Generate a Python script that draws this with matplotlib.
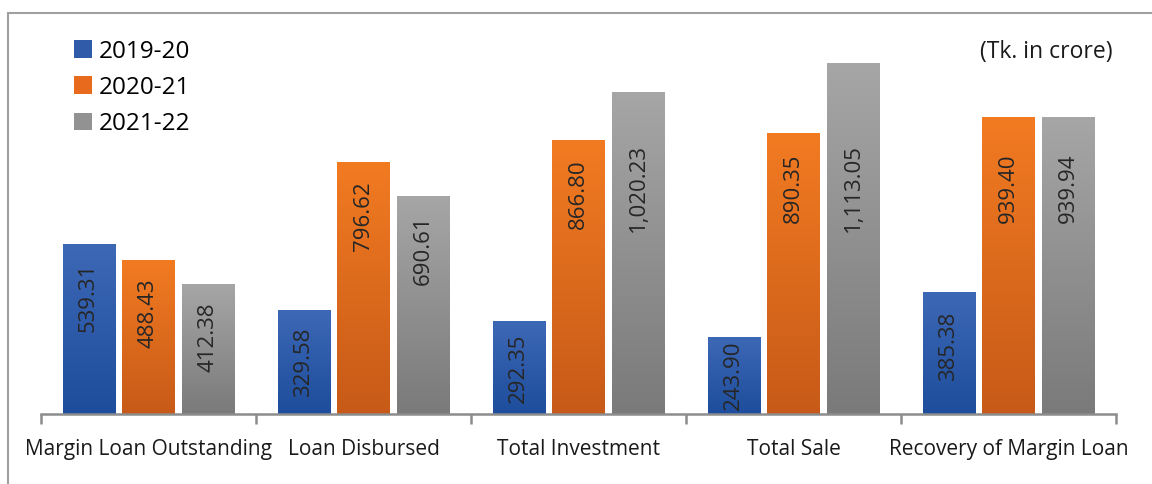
import numpy as np
import matplotlib.pyplot as plt
from matplotlib.patches import Rectangle, Patch
from matplotlib.colors import LinearSegmentedColormap

plt.rcParams['font.family'] = ['Open Sans', 'DejaVu Sans']

categories = ["Margin Loan Outstanding", "Loan Disbursed", "Total Investment",
              "Total Sale", "Recovery of Margin Loan"]
years = ["2019-20", "2020-21", "2021-22"]
v_2019 = [539.31, 329.58, 292.35, 243.90, 385.38]
v_2020 = [488.43, 796.62, 866.80, 890.35, 939.40]
v_2021 = [412.38, 690.61, 1020.23, 1113.05, 939.94]
labels_2019 = ["539.31", "329.58", "292.35", "243.90", "385.38"]
labels_2020 = ["488.43", "796.62", "866.80", "890.35", "939.40"]
labels_2021 = ["412.38", "690.61", "1,020.23", "1,113.05", "939.94"]

# (top colour, bottom colour) for each series
grads = [("#3d68b6", "#1d4d9c"), ("#f27b22", "#c75a18"), ("#a6a6a6", "#7a7a7a")]
legend_cols = ["#2f5ba8", "#e86a1c", "#929292"]

fig = plt.figure(figsize=(11.52, 4.84), dpi=100)
ax = fig.add_axes([41 / 1152, 1 - 414 / 484, 1075 / 1152, 394 / 484])

# outer frame
fig.patches.append(Rectangle((8 / 1152, -0.1), 1.1, 1 - 13 / 484 + 0.1,
                             transform=fig.transFigure, fill=False,
                             edgecolor="#a0a0a0", linewidth=1.5))

x = np.arange(len(categories))
step = 0.279
width = 0.242
series = [v_2019, v_2020, v_2021]
texts = [labels_2019, labels_2020, labels_2021]

for i, (vals, labs) in enumerate(zip(series, texts)):
    cmap = LinearSegmentedColormap.from_list("g%d" % i, [grads[i][1], grads[i][0]])
    grad = np.linspace(0, 1, 256).reshape(-1, 1)
    for xi, v, lab in zip(x, vals, labs):
        left = xi + (i - 1) * step - width / 2
        ax.imshow(grad, extent=[left, left + width, 0, v], origin="lower",
                  cmap=cmap, aspect="auto", zorder=2)
        # label placement roughly like the original
        yc = min(max(v - 170, v / 2), 717)
        ax.text(xi + (i - 1) * step, yc, lab, rotation=90, ha="center",
                va="center", fontsize=16, color="#262626", zorder=3)

ax.set_xlim(-0.5, len(categories) - 0.5)
ax.set_ylim(0, 1250)
for s in ["top", "right", "left"]:
    ax.spines[s].set_visible(False)
ax.spines["bottom"].set_color("#8c8c8c")
ax.spines["bottom"].set_linewidth(1.8)
ax.set_yticks([])
ax.set_xticks(x)
ax.set_xticklabels(categories, fontsize=15, color="#1a1a1a")
ax.tick_params(axis="x", which="major", length=0, pad=18)
ax.set_xticks(np.arange(-0.5, len(categories)), minor=True)
ax.tick_params(axis="x", which="minor", length=7, width=1.8, color="#8c8c8c")

handles = [Patch(facecolor=c, label=y) for c, y in zip(legend_cols, years)]
fig.legend(handles=handles, loc="upper left", bbox_to_anchor=(64 / 1152, 1 - 30 / 484),
           frameon=False, fontsize=17.5, handlelength=0.75, handleheight=0.75,
           handletextpad=0.3, labelspacing=0.5, borderaxespad=0)

fig.text(1113 / 1152, 1 - 52 / 484, "(Tk. in crore)", ha="right", va="center",
         fontsize=16.5, color="#1a1a1a")

fig.savefig("out.png", dpi=100)
